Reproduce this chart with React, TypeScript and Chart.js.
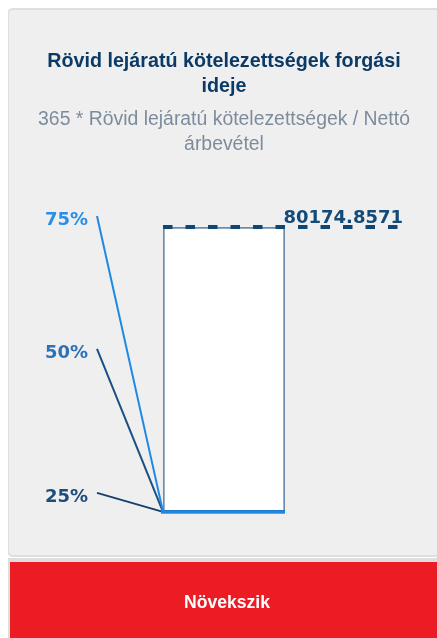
import React, { useEffect, useRef } from "react";
import { Chart, registerables } from "chart.js";

Chart.register(...registerables);

const categories = ["Rövid lejáratú kötelezettségek forgási ideje"];
const values = [80174.8571];
const quartileLabels = ["25%", "50%", "75%"];
const quartileValues = [38.2, 61.5, 97.3];

const titleText = "Rövid lejáratú kötelezettségek forgási ideje";
const subtitleText = "365 * Rövid lejáratú kötelezettségek / Nettó árbevétel";
const trendText = "Növekszik";

const labelColors = ["#1f4c7a", "#2e72b6", "#2b8ee8"];
const lineColors = ["#17406b", "#1b4f85", "#1e88e5"];
const labelFracs = [0.947, 0.442, -0.0246];

const quartilePlugin = {
  id: "quartiles",
  afterDraw(chart: any) {
    const { ctx, chartArea, scales } = chart;
    const y = scales.y;
    const labelX = 36;
    ctx.save();
    ctx.font = "bold 18px 'DejaVu Sans'";
    ctx.textBaseline = "middle";
    ctx.textAlign = "left";
    quartileLabels.forEach((lab, i) => {
      const cy = chartArea.top + labelFracs[i] * (chartArea.bottom - chartArea.top);
      ctx.fillStyle = labelColors[i];
      ctx.fillText(lab, labelX, cy);
    });
    quartileLabels.forEach((lab, i) => {
      const cy = chartArea.top + labelFracs[i] * (chartArea.bottom - chartArea.top);
      const yq = y.getPixelForValue(quartileValues[i]);
      ctx.strokeStyle = lineColors[i];
      ctx.lineWidth = 2;
      ctx.beginPath();
      ctx.moveTo(labelX + 52, cy - 4);
      ctx.lineTo(chartArea.left, yq);
      ctx.stroke();
      ctx.lineWidth = 3;
      ctx.beginPath();
      ctx.moveTo(chartArea.left - 2, yq);
      ctx.lineTo(chartArea.right, yq);
      ctx.stroke();
    });
    const yv = y.getPixelForValue(values[0]);
    ctx.strokeStyle = "#0e4675";
    ctx.lineWidth = 4;
    ctx.setLineDash([9.5, 13]);
    ctx.beginPath();
    ctx.moveTo(chartArea.left, yv);
    ctx.lineTo(chartArea.right + 119, yv);
    ctx.stroke();
    ctx.setLineDash([]);
    ctx.fillStyle = "#134a78";
    ctx.font = "bold 18px 'DejaVu Sans'";
    ctx.textAlign = "right";
    ctx.textBaseline = "alphabetic";
    ctx.fillText(values[0].toFixed(4), chartArea.right + 118, yv - 4);
    ctx.restore();
  },
};

export default function App() {
  const ref = useRef<HTMLCanvasElement | null>(null);
  useEffect(() => {
    document.documentElement.style.overflow = "hidden";
    document.body.style.overflow = "hidden";
    if (!ref.current) return;
    const chart = new Chart(ref.current, {
      type: "bar",
      data: {
        labels: categories,
        datasets: [
          {
            data: values,
            backgroundColor: "#ffffff",
            borderColor: "#6b8cab",
            borderWidth: 2,
            borderSkipped: false,
            barPercentage: 1,
            categoryPercentage: 1,
          },
        ],
      },
      options: {
        animation: false,
        responsive: false,
        devicePixelRatio: 1,
        layout: { padding: { left: 154, right: 154, top: 37, bottom: 18 } },
        scales: {
          x: { display: false },
          y: { display: false, min: 0, max: values[0] },
        },
        plugins: {
          legend: { display: false },
          tooltip: { enabled: false },
          title: { display: false },
        },
      },
      plugins: [quartilePlugin],
    });
    return () => chart.destroy();
  }, []);

  return (
    <div style={{ position: "fixed", left: 8, top: 8, right: 0, bottom: 0, overflow: "hidden" }}>
      <div
        style={{
          position: "absolute",
          left: -1,
          top: 0,
          width: 460,
          height: 549,
          boxSizing: "border-box",
          border: "2px solid #dedede",
          borderRadius: 6,
          background: "#efefef",
        }}
      >
        <div
          style={{
            position: "absolute",
            top: 38,
            left: 0,
            width: 430,
            padding: "0 18px",
            boxSizing: "border-box",
            textAlign: "center",
            fontFamily: "'Liberation Sans', Arial, sans-serif",
            fontWeight: "bold",
            fontSize: 19.7,
            lineHeight: "25px",
            color: "#0b3a66",
          }}
        >
          {titleText}
        </div>
        <div
          style={{
            position: "absolute",
            top: 96,
            left: 0,
            width: 430,
            padding: "0 18px",
            boxSizing: "border-box",
            textAlign: "center",
            fontFamily: "'Liberation Sans', Arial, sans-serif",
            fontSize: 19.4,
            lineHeight: "25px",
            color: "#7d8c9c",
          }}
        >
          {subtitleText}
        </div>
        <canvas
          ref={ref}
          width={430}
          height={340}
          style={{ position: "absolute", left: 0, top: 180, width: 430, height: 340 }}
        />
      </div>
      <div
        style={{
          position: "absolute",
          left: 0,
          top: 550,
          width: 470,
          height: 100,
          boxSizing: "border-box",
          borderTop: "4px solid #dedede",
          borderLeft: "2px solid #dedede",
          background: "#ec1c24",
        }}
      >
        <div
          style={{
            position: "absolute",
            top: 30,
            left: 0,
            width: 434,
            textAlign: "center",
            fontFamily: "'Liberation Sans', Arial, sans-serif",
            fontWeight: "bold",
            fontSize: 17.6,
            lineHeight: "20px",
            color: "#ffffff",
          }}
        >
          {trendText}
        </div>
      </div>
    </div>
  );
}
